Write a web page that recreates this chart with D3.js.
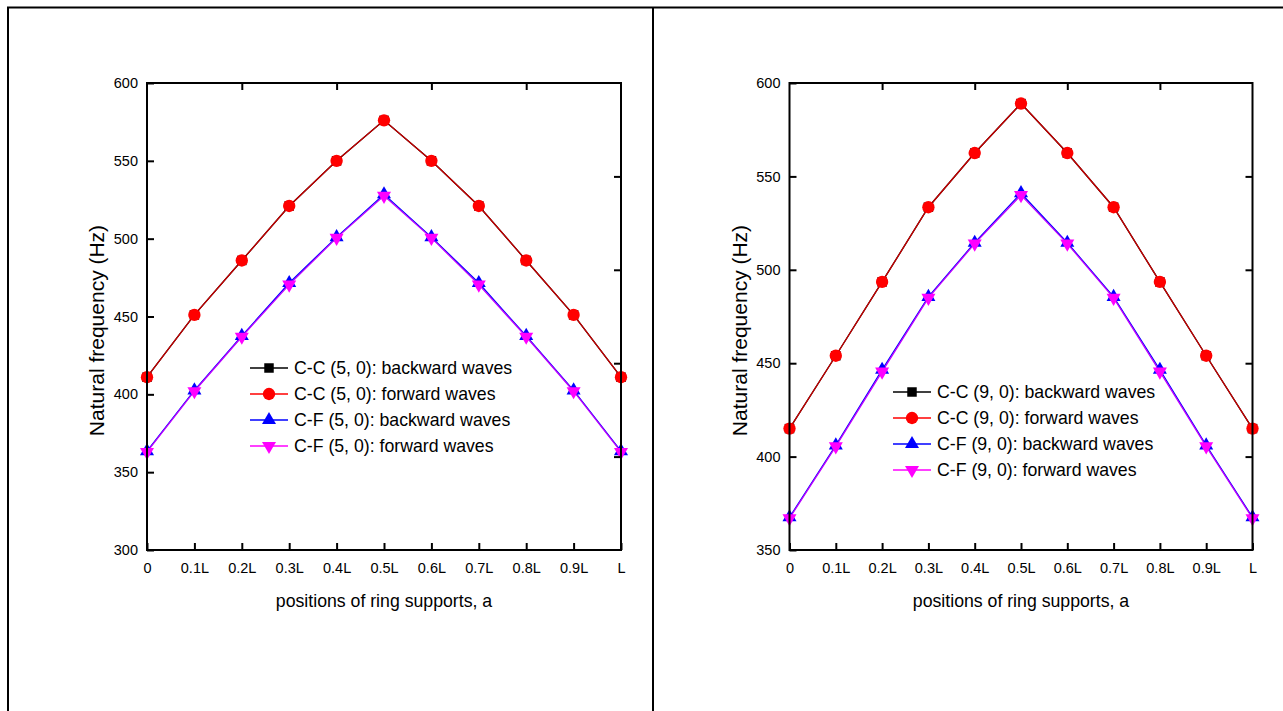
<!DOCTYPE html>
<html>
<head>
<meta charset="utf-8">
<script src="https://cdn.jsdelivr.net/npm/d3@7"></script>
<style>
  html, body { margin: 0; padding: 0; background: #fff; }
  svg { display: block; font-family: "Liberation Sans", Arial, sans-serif; }
</style>
</head>
<body>
<svg id="chart" width="1283" height="711"></svg>
<script>
// Support positions along the shell length
const positions = [0, 0.1, 0.2, 0.3, 0.4, 0.5, 0.6, 0.7, 0.8, 0.9, 1.0];
const positionLabels = ["0", "0.1L", "0.2L", "0.3L", "0.4L", "0.5L", "0.6L", "0.7L", "0.8L", "0.9L", "L"];

// (5, 0) mode natural frequencies (Hz)
const cc50Backward = [411, 451, 486, 521, 550, 576, 550, 521, 486, 451, 411];
const cc50Forward  = [411, 451, 486, 521, 550, 576, 550, 521, 486, 451, 411];
const cf50Backward = [363.5, 402.5, 437.5, 471.5, 501, 528.5, 501, 471.5, 437.5, 402.5, 363.5];
const cf50Forward  = [363, 402, 437, 470.5, 500.5, 527.5, 500.5, 470.5, 437, 402, 363];

// (9, 0) mode natural frequencies (Hz)
const cc90Backward = [415, 454, 493.5, 533.5, 562.5, 589, 562.5, 533.5, 493.5, 454, 415];
const cc90Forward  = [415, 454, 493.5, 533.5, 562.5, 589, 562.5, 533.5, 493.5, 454, 415];
const cf90Backward = [367.5, 406, 446.5, 485.5, 514.5, 541, 514.5, 485.5, 446.5, 406, 367.5];
const cf90Forward  = [367, 405.5, 445.5, 485, 514, 540, 514, 485, 445.5, 405.5, 367];

const yTicks50 = [300, 350, 400, 450, 500, 550, 600];
const yTicks90 = [350, 400, 450, 500, 550, 600];

const svg = d3.select("#chart");

// page cell borders
svg.append("line").attr("x1", 7).attr("x2", 1283).attr("y1", 7.5).attr("y2", 7.5)
  .attr("stroke", "#000").attr("stroke-width", 2);
svg.append("line").attr("x1", 8).attr("x2", 8).attr("y1", 7).attr("y2", 711)
  .attr("stroke", "#000").attr("stroke-width", 2);
svg.append("line").attr("x1", 653).attr("x2", 653).attr("y1", 7).attr("y2", 711)
  .attr("stroke", "#000").attr("stroke-width", 2);

const symbolFor = {
  square: d3.symbol().type(d3.symbolSquare).size(90),
  circle: d3.symbol().type(d3.symbolCircle).size(120),
  triUp: d3.symbol().type(d3.symbolTriangle).size(85),
};

function markerPath(kind) {
  if (kind === "triDown") return symbolFor.triUp();
  return symbolFor[kind]();
}

function drawPanel(cfg) {
  const g = svg.append("g");
  const x = d3.scaleLinear().domain([0, 1]).range([cfg.left, cfg.right]);
  const y = d3.scaleLinear().domain(cfg.yDomain).range([cfg.bottom, cfg.top]);

  // series lines
  const line = d3.line().x((d, i) => x(positions[i])).y(d => y(d));
  cfg.series.forEach(s => {
    g.append("path").datum(s.values)
      .attr("d", line)
      .attr("fill", "none")
      .attr("stroke", s.lineColor)
      .attr("stroke-width", 1.3);
  });

  // series markers
  cfg.series.forEach(s => {
    g.selectAll(null).data(s.values).enter().append("path")
      .attr("d", markerPath(s.marker))
      .attr("transform", (d, i) => `translate(${x(positions[i])},${y(d)})` + (s.marker === "triDown" ? " rotate(180)" : ""))
      .attr("fill", s.color);
  });

  // frame
  g.append("rect")
    .attr("x", cfg.left).attr("y", cfg.top)
    .attr("width", cfg.right - cfg.left).attr("height", cfg.bottom - cfg.top)
    .attr("fill", "none").attr("stroke", "#000").attr("stroke-width", 2);

  // bottom axis: ticks inward
  const xAxis = d3.axisBottom(x).tickValues(positions)
    .tickFormat((d, i) => positionLabels[i]).tickSizeInner(-7).tickSizeOuter(0).tickPadding(13);
  const gx = g.append("g").attr("transform", `translate(0,${cfg.bottom})`).call(xAxis);
  gx.select(".domain").remove();
  gx.selectAll("line").attr("stroke-width", 2);
  gx.selectAll("text").attr("font-size", 14.5).attr("fill", "#000")
    .attr("font-family", "Liberation Sans, Arial, sans-serif");

  // left axis: ticks inward
  const yAxis = d3.axisLeft(y).tickValues(cfg.yTicks).tickFormat(d3.format("d"))
    .tickSizeInner(-7).tickSizeOuter(0).tickPadding(9);
  const gy = g.append("g").attr("transform", `translate(${cfg.left},0)`).call(yAxis);
  gy.select(".domain").remove();
  gy.selectAll("line").attr("stroke-width", 2);
  gy.selectAll("text").attr("font-size", 14.5).attr("fill", "#000")
    .attr("font-family", "Liberation Sans, Arial, sans-serif");

  // top axis: unlabeled inward ticks every 0.2L
  const xTop = d3.axisTop(x).tickValues([0.2, 0.4, 0.6, 0.8]).tickFormat("")
    .tickSizeInner(-7).tickSizeOuter(0);
  const gt = g.append("g").attr("transform", `translate(0,${cfg.top})`).call(xTop);
  gt.select(".domain").remove();
  gt.selectAll("line").attr("stroke-width", 2);

  // right axis: unlabeled inward ticks at five equal divisions
  const yr = d3.scaleLinear().domain([0, 5]).range([cfg.bottom, cfg.top]);
  const yRight = d3.axisRight(yr).tickValues([1, 2, 3, 4]).tickFormat("")
    .tickSizeInner(-7).tickSizeOuter(0);
  const gr = g.append("g").attr("transform", `translate(${cfg.right},0)`).call(yRight);
  gr.select(".domain").remove();
  gr.selectAll("line").attr("stroke-width", 2);

  // axis titles
  g.append("text")
    .attr("x", (cfg.left + cfg.right) / 2).attr("y", cfg.bottom + 57)
    .attr("text-anchor", "middle").attr("font-size", 17.7).attr("fill", "#000")
    .text("positions of ring supports, a");
  g.append("text")
    .attr("transform", `translate(${cfg.left - 43},${(cfg.top + cfg.bottom) / 2 + 14}) rotate(-90)`)
    .attr("text-anchor", "middle").attr("font-size", 21).attr("fill", "#000")
    .text("Natural frequency (Hz)");

  // legend
  const lg = g.append("g").attr("transform", `translate(${cfg.legendX},${cfg.legendY})`);
  cfg.series.forEach((s, i) => {
    const row = lg.append("g").attr("transform", `translate(0,${i * 26})`);
    row.append("line").attr("x1", 0).attr("x2", 38).attr("y1", 0).attr("y2", 0)
      .attr("stroke", s.color).attr("stroke-width", 1.3);
    row.append("path").attr("d", markerPath(s.marker))
      .attr("transform", `translate(19,0)` + (s.marker === "triDown" ? " rotate(180)" : ""))
      .attr("fill", s.color);
    row.append("text").attr("x", 44).attr("y", 6)
      .attr("font-size", 17.7).attr("fill", "#000").text(s.name);
  });
}

drawPanel({
  left: 147, right: 621, top: 83, bottom: 550,
  yDomain: [300, 600], yTicks: yTicks50,
  legendX: 250, legendY: 368,
  series: [
    { name: "C-C (5, 0): backward waves", values: cc50Backward, color: "#000", lineColor: "#000", marker: "square" },
    { name: "C-C (5, 0): forward waves", values: cc50Forward, color: "#ff0000", lineColor: "#c80000", marker: "circle" },
    { name: "C-F (5, 0): backward waves", values: cf50Backward, color: "#0000ff", lineColor: "#0000ff", marker: "triUp" },
    { name: "C-F (5, 0): forward waves", values: cf50Forward, color: "#ff00ff", lineColor: "#c000ff", marker: "triDown" },
  ],
});

drawPanel({
  left: 789.5, right: 1252.5, top: 83, bottom: 550,
  yDomain: [350, 600], yTicks: yTicks90,
  legendX: 893, legendY: 392,
  series: [
    { name: "C-C (9, 0): backward waves", values: cc90Backward, color: "#000", lineColor: "#000", marker: "square" },
    { name: "C-C (9, 0): forward waves", values: cc90Forward, color: "#ff0000", lineColor: "#c80000", marker: "circle" },
    { name: "C-F (9, 0): backward waves", values: cf90Backward, color: "#0000ff", lineColor: "#0000ff", marker: "triUp" },
    { name: "C-F (9, 0): forward waves", values: cf90Forward, color: "#ff00ff", lineColor: "#c000ff", marker: "triDown" },
  ],
});
</script>
</body>
</html>
